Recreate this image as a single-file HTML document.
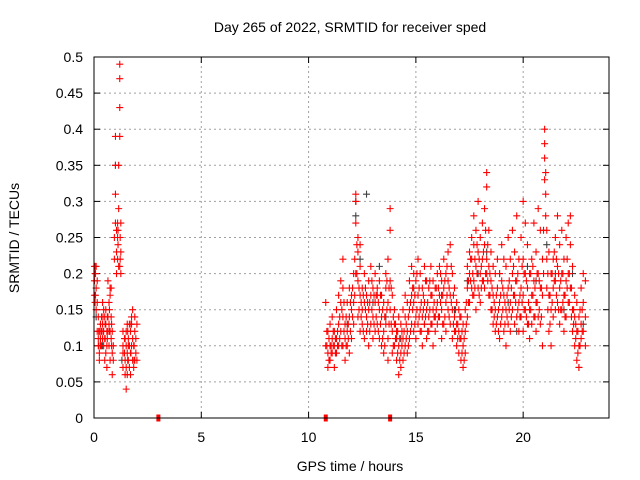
<!DOCTYPE html>
<html><head><meta charset="utf-8"><style>
html,body{margin:0;padding:0;background:#fff;}
svg{display:block;font-family:"Liberation Sans",sans-serif;}
</style></head><body>
<svg id="chart" width="640" height="480" viewBox="0 0 640 480" xmlns="http://www.w3.org/2000/svg">
<rect width="640" height="480" fill="#fff"/>
<text x="350" y="32" text-anchor="middle" font-size="14">Day 265 of 2022, SRMTID for receiver sped</text>
<text x="350" y="471" text-anchor="middle" font-size="14">GPS time / hours</text>
<text transform="translate(19,238) rotate(-90)" text-anchor="middle" font-size="14">SRMTID / TECUs</text>
<g id="grid"></g>
<g id="ticks"></g>
<g id="gray"></g>
<g id="red"></g>
<rect x="94" y="57" width="515" height="361" fill="none" stroke="#000" stroke-width="1"/>
</svg>
<script>
const xTicks=[0,5,10,15,20];
const xTickLabels=["0","5","10","15","20"];
const yTicks=[0,0.05,0.1,0.15,0.2,0.25,0.3,0.35,0.4,0.45,0.5];
const yTickLabels=["0","0.05","0.1","0.15","0.2","0.25","0.3","0.35","0.4","0.45","0.5"];
const redTimes=[0.02,0.05,0.1,0.15,0.2,0.25,0.3,0.35,0.4,0.45,0.5,0.55,0.6,0.65,0.7,0.75,0.8,0.85,0.9,0.95,1.0,1.05,1.1,1.15,1.2,1.25,1.35,1.45,1.5,1.55,1.6,1.65,1.7,1.75,1.8,1.85,1.9,1.95,2.0,
10.8,10.9,11.0,11.1,11.2,11.3,11.4,11.5,11.6,11.7,11.8,11.9,12.0,12.1,12.2,12.3,12.4,12.5,12.6,12.7,12.8,12.9,13.0,13.1,13.2,13.3,13.4,13.5,13.6,13.7,13.8,13.9,14.0,14.1,14.2,14.3,14.4,14.5,14.6,14.7,14.8,14.9,15.0,15.1,15.2,15.3,15.4,15.5,15.6,15.7,15.8,15.9,16.0,16.1,16.2,16.3,16.4,16.5,16.6,16.7,16.8,16.9,17.0,17.1,17.2,17.3,17.4,17.5,17.6,17.7,17.8,17.9,18.0,18.1,18.2,18.3,18.4,18.5,18.6,18.7,18.8,18.9,19.0,19.1,19.2,19.3,19.4,19.5,19.6,19.7,19.8,19.9,20.0,20.1,20.2,20.3,20.4,20.5,20.6,20.7,20.8,20.9,21.0,21.05,21.1,21.2,21.3,21.4,21.5,21.6,21.7,21.8,21.9,22.0,22.1,22.2,22.3,22.4,22.5,22.6,22.7,22.8,22.9];
const redVals=[[.17,.19,.21],[.2,.16,.21],[.21,.18,.15],[.19,.12,.16],[.14,.11,.1],[.12,.09,.08],[.13,.11,.1],[.1,.12,.14],[.11,.13,.16],[.1,.12,.15],[.08,.11,.14],[.09,.13,.15],[.07,.1,.12],[.12,.14,.19],[.1,.13,.16],[.08,.12,.17,.18],[.11,.14,.18],[.06,.09,.12],[.08,.1],[.22,.25],[.27,.31,.35,.39],[.23,.26,.2],[.25,.27,.22],[.29,.21,.35],[.43,.47,.49,.39,.21],[.2,.23,.27],[.12,.09,.07,.1],[.06,.08,.11],[.04,.07,.1,.12],[.06,.09,.13],[.08,.11,.1],[.07,.1,.13],[.06,.09,.12],[.1,.13,.14],[.08,.11,.15],[.07,.1],[.08,.12,.14],[.09,.11],[.08,.13],
[.1,.16],[.09,.07,.12],[.1,.13,.08],[.11,.09,.14],[.1,.12,.07],[.15,.11,.09],[.17,.13,.1],[.12,.16,.19],[.14,.1,.18,.22],[.13,.11,.08],[.16,.12,.1],[.18,.14,.09],[.15,.11,.17],[.2,.13,.16],[.3,.31,.27,.2],[.23,.19,.25,.14],[.21,.17,.12,.24],[.15,.18,.13],[.16,.2,.11],[.12,.17,.14],[.15,.19,.1],[.17,.13,.21],[.14,.18,.11],[.16,.2,.12],[.13,.18,.17],[.11,.15,.19],[.14,.1,.17],[.12,.09,.16],[.18,.13,.2],[.16,.11,.08,.22],[.29,.26,.15,.19],[.17,.12,.09],[.15,.1,.13],[.12,.08,.11],[.1,.06,.14],[.13,.09,.07],[.11,.15,.08],[.14,.1,.17],[.12,.16,.09],[.15,.19,.11],[.13,.17,.21],[.16,.12,.2],[.14,.19,.11],[.17,.13,.22],[.15,.2,.12],[.18,.14,.1],[.16,.13,.21],[.19,.15,.11],[.14,.18,.12],[.17,.21,.13],[.15,.19,.1],[.18,.14,.12],[.2,.16,.13],[.17,.21,.14],[.15,.19,.11],[.18,.13,.22],[.16,.2,.12],[.19,.15,.23],[.24,.17,.13],[.2,.15,.11],[.14,.18,.12],[.16,.1,.13],[.12,.15,.09],[.14,.08,.11],[.1,.13,.07],[.15,.12,.09],[.18,.14,.21],[.2,.16,.23],[.22,.18,.25],[.19,.24,.17,.28],[.21,.26,.15],[.23,.18,.3],[.2,.25,.16],[.27,.22,.19],[.24,.29,.18],[.34,.32,.22,.2],[.26,.21,.17],[.19,.23,.15],[.17,.21,.13],[.15,.12,.2],[.18,.14,.22],[.16,.11,.2],[.14,.19,.24],[.17,.12,.22],[.21,.15,.1],[.18,.13,.25],[.16,.22,.12],[.2,.15,.26],[.23,.17,.13],[.19,.14,.28],[.22,.16,.12],[.18,.25,.14],[.3,.22,.17,.12],[.27,.2,.15],[.24,.18,.13],[.2,.15,.11],[.17,.13,.22],[.19,.14,.27],[.23,.16,.12],[.29,.2,.14],[.26,.18,.13],[.22,.17,.1],[.36,.38,.4,.33],[.34,.31,.28],[.26,.22,.18],[.23,.17,.12],[.2,.15,.1],[.18,.14,.22],[.25,.19,.15],[.28,.21,.16],[.24,.18,.13],[.2,.15,.26],[.22,.17,.12],[.19,.14,.25],[.27,.2,.16],[.24,.28,.18],[.21,.15,.12],[.17,.1,.14],[.12,.08,.16],[.1,.07,.14],[.13,.18,.11],[.16,.2,.12],[.14,.19,.1]];
const redTimesB=[0.07,0.22,0.32,0.42,0.52,0.62,0.72,0.82,1.12,1.22,1.42,1.57,1.72,1.87,
10.85,10.95,11.05,11.15,11.25,11.35,11.45,11.55,11.65,11.75,11.85,11.95,12.05,12.15,12.25,12.35,12.45,12.55,12.65,12.75,12.85,12.95,13.05,13.15,13.25,13.35,13.45,13.55,13.65,13.75,13.85,13.95,14.05,14.15,14.25,14.35,14.45,14.55,14.65,14.75,14.85,14.95,15.05,15.15,15.25,15.35,15.45,15.55,15.65,15.75,15.85,15.95,16.05,16.15,16.25,16.35,16.45,16.55,16.65,16.75,16.85,16.95,17.05,17.15,17.25,17.35,17.45,17.55,17.65,17.75,17.85,17.95,18.05,18.15,18.25,18.35,18.45,18.55,18.65,18.75,18.85,18.95,19.05,19.15,19.25,19.35,19.45,19.55,19.65,19.75,19.85,19.95,20.05,20.15,20.25,20.35,20.45,20.55,20.65,20.75,20.85,20.95,21.15,21.25,21.35,21.45,21.55,21.65,21.75,21.85,21.95,22.05,22.15,22.25,22.35,22.45,22.55,22.65,22.75,22.85];
const redValsB=[[.2,.17],[.12,.1],[.12,.1],[.14,.12],[.11,.13],[.11,.14],[.15,.12],[.1,.13],[.24,.26],[.25,.22],[.09,.11],[.08,.12],[.09,.13],[.1,.08],
[.1,.12],[.08,.11],[.1,.09],[.12,.1],[.09,.11],[.12,.1],[.14,.11],[.15,.1],[.12,.16],[.1,.14],[.13,.11],[.16,.12],[.14,.18],[.22,.17],[.24,.2],[.18,.15],[.16,.14],[.17,.12],[.15,.18],[.13,.16],[.16,.12],[.15,.19],[.17,.13],[.14,.17],[.12,.16],[.13,.17],[.11,.15],[.14,.1],[.15,.19],[.13,.18],[.18,.13],[.14,.1],[.11,.13],[.09,.12],[.08,.11],[.1,.12],[.12,.09],[.13,.11],[.14,.1],[.16,.12],[.15,.18],[.13,.17],[.15,.2],[.14,.18],[.16,.12],[.15,.17],[.14,.19],[.16,.12],[.15,.19],[.17,.13],[.16,.14],[.15,.18],[.18,.14],[.16,.2],[.17,.13],[.14,.19],[.17,.21],[.18,.14],[.21,.16],[.17,.13],[.15,.12],[.13,.11],[.11,.14],[.12,.09],[.11,.08],[.13,.16],[.16,.19],[.19,.22],[.2,.17],[.22,.18],[.2,.24],[.22,.17],[.21,.18],[.23,.19],[.26,.2],[.24,.19],[.2,.17],[.18,.15],[.16,.14],[.17,.13],[.15,.12],[.17,.13],[.18,.15],[.16,.13],[.17,.14],[.19,.15],[.18,.14],[.17,.21],[.16,.19],[.15,.2],[.17,.14],[.21,.16],[.2,.15],[.19,.14],[.16,.13],[.15,.2],[.17,.21],[.18,.14],[.2,.16],[.19,.15],[.18,.14],[.26,.2],[.2,.15],[.17,.13],[.16,.2],[.19,.23],[.22,.17],[.2,.15],[.19,.15],[.16,.2],[.17,.14],[.22,.18],[.2,.16],[.18,.14],[.15,.13],[.11,.13],[.09,.12],[.1,.15],[.15,.12]];
const grayTimes=[0.1,0.4,1.0,1.3,11.3,11.8,12.2,12.4,12.7,13.0,13.3,13.6,14.3,14.9,15.4,15.9,16.2,16.8,17.4,17.9,18.3,18.9,19.3,19.7,20.2,20.6,21.1,21.5,21.9,22.3,22.6,22.8];
const grayVals=[[.14],[.1],[.35],[.08],[.09],[.13],[.3,.28],[.22],[.31],[.16],[.21],[.14],[.11],[.18],[.13],[.14],[.17],[.15],[.19],[.2],[.23],[.2],[.16],[.12],[.21],[.19],[.24],[.2],[.15],[.2],[.07],[.13]];
const zeroTimes=[3.0,10.8,13.8];

const X0=94,X1=609,Y0=418,Y1=57,XMAX=24,YMAX=0.5;
const NS="http://www.w3.org/2000/svg";
function xs(t){return X0+(X1-X0)*t/XMAX;}
function ys(v){return Y0-(Y0-Y1)*v/YMAX;}
function mk(tag,attrs,parent){const e=document.createElementNS(NS,tag);for(const k in attrs)e.setAttribute(k,attrs[k]);parent.appendChild(e);return e;}
const grid=document.getElementById('grid'),ticks=document.getElementById('ticks');
xTicks.forEach((t,i)=>{
  const x=xs(t);
  if(t>0){const g=mk('line',{x1:x,x2:x,y1:Y0,y2:Y1,stroke:'#a0a0a0','stroke-dasharray':'2,3'},grid);
  
  }
  mk('line',{x1:x,x2:x,y1:Y0,y2:Y0-6,stroke:'#000'},ticks);
  mk('line',{x1:x,x2:x,y1:Y1,y2:Y1+6,stroke:'#000'},ticks);
  const l=mk('text',{x:x,y:442,'text-anchor':'middle','font-size':'14'},ticks);
  l.textContent=xTickLabels[i];
  
  
});
yTicks.forEach((v,i)=>{
  const y=ys(v);
  if(v>0&&v<YMAX){const g=mk('line',{x1:X0,x2:X1,y1:y,y2:y,stroke:'#a0a0a0','stroke-dasharray':'2,3'},grid);
  
  }
  mk('line',{x1:X0,x2:X0+6,y1:y,y2:y,stroke:'#000'},ticks);
  mk('line',{x1:X1,x2:X1-6,y1:y,y2:y,stroke:'#000'},ticks);
  const l=mk('text',{x:83,y:y+5,'text-anchor':'end','font-size':'14'},ticks);
  l.textContent=yTickLabels[i];
  
  
});
function plus(parent,t,v,color){
  const x=xs(t),y=ys(v);
  const p=mk('path',{d:`M${x-3.5},${y}H${x+3.5}M${x},${y-3.5}V${y+3.5}`,stroke:color,'stroke-width':'1.1',fill:'none'},parent);
  
  
}
const gG=document.getElementById('gray'),gR=document.getElementById('red');
zeroTimes.forEach(t=>{
  const r=mk('rect',{x:xs(t)-2,y:Y0-3.5,width:4,height:7,fill:'#ff0000'},gR);
  
  
});
grayTimes.forEach((t,i)=>(grayVals[i]||[]).forEach(v=>plus(gG,t,v,'#404040')));
redTimes.forEach((t,i)=>(redVals[i]||[]).forEach(v=>plus(gR,t,v,'#ff0000')));
redTimesB.forEach((t,i)=>(redValsB[i]||[]).forEach(v=>plus(gR,t,v,'#ff0000')));
</script>
</body></html>
